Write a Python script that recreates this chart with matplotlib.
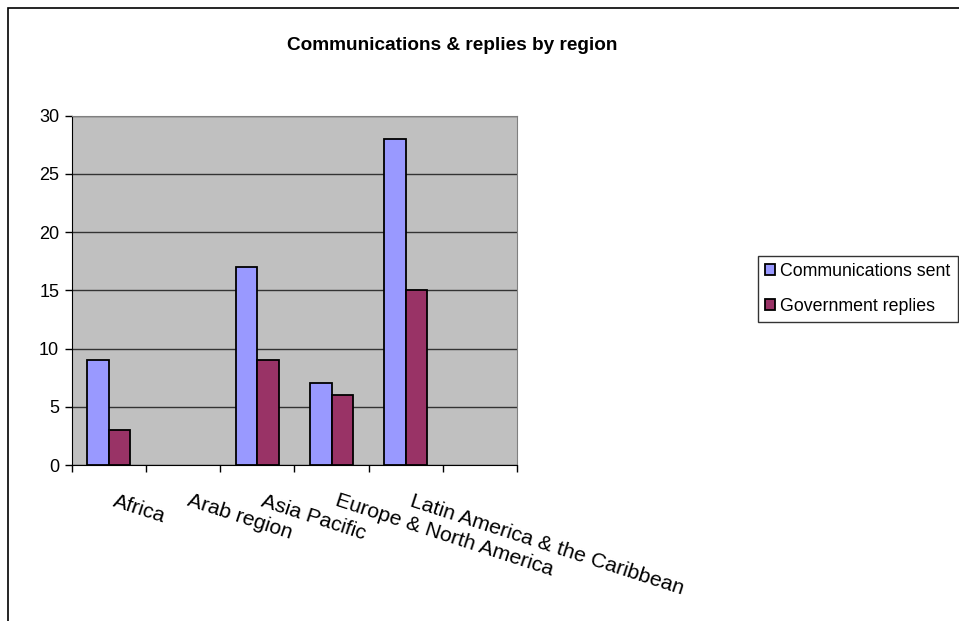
import numpy as np
import matplotlib.pyplot as plt
from matplotlib.patches import Rectangle

plt.rcParams['font.family'] = ['Liberation Sans', 'DejaVu Sans']

regions = ['Africa', 'Arab region', 'Asia Pacific', 'Europe & North America',
           'Latin America & the Caribbean', '']
sent = [9, 0, 17, 7, 28, 0]
replies = [3, 0, 9, 6, 15, 0]
yticks = [0, 5, 10, 15, 20, 25, 30]


def main():
	fig = plt.figure(figsize=(9.59, 6.21), dpi=100)
	ax = fig.add_axes([0.0748, 0.2512, 0.4644, 0.5625])

	# outer chart frame running off the right/bottom of the image
	fig.patches.append(Rectangle((8/959, -0.1), 1.2, 1 - 8/621 + 0.1,
	                             transform=fig.transFigure, fill=False,
	                             edgecolor='black', linewidth=1.2))

	x = np.arange(len(regions))
	w = 0.29
	# zero-height bars are not drawn in the original
	ec_s = ['black' if v > 0 else 'none' for v in sent]
	ec_r = ['black' if v > 0 else 'none' for v in replies]
	ax.bar(x - w/2, sent, w, color='#9999FF', edgecolor=ec_s, linewidth=1.3,
	       label='Communications sent', zorder=3)
	ax.bar(x + w/2, replies, w, color='#993366', edgecolor=ec_r, linewidth=1.3,
	       label='Government replies', zorder=3)

	ax.set_facecolor('#C0C0C0')
	ax.set_xlim(-0.5, len(regions) - 0.5)
	ax.set_ylim(0, 30)
	ax.set_yticks(yticks)
	ax.yaxis.grid(True, color='#333333', linewidth=1.0, zorder=1)
	ax.tick_params(axis='y', labelsize=13, length=5, width=1, direction='out',
	               pad=4)

	ax.set_xticks(x + 0.1)
	ax.set_xticklabels(regions, fontsize=15.2, rotation=-18, ha='left', va='top',
	                   rotation_mode='anchor')
	ax.set_xticks(np.arange(len(regions) + 1) - 0.5, minor=True)
	ax.tick_params(axis='x', which='major', length=0, pad=19)
	ax.tick_params(axis='x', which='minor', length=5, width=1, direction='out')

	for s in ['top', 'right']:
		ax.spines[s].set_color('#808080')
	for s in ['left', 'bottom']:
		ax.spines[s].set_color('black')

	fig.text(0.471, 0.927, 'Communications & replies by region', ha='center',
	         va='center', fontsize=13.7, fontweight='bold')

	leg = fig.legend(loc='center left', bbox_to_anchor=(758/959, 1 - 289/621),
	                 fontsize=12.8, frameon=True, fancybox=False, edgecolor='black',
	                 handlelength=0.55, handleheight=0.55, handletextpad=0.3,
	                 borderpad=0.4, labelspacing=1.0, borderaxespad=0)
	leg.get_frame().set_linewidth(1.0)

	fig.savefig('out.png', dpi=100)


if __name__ == '__main__':
	main()
